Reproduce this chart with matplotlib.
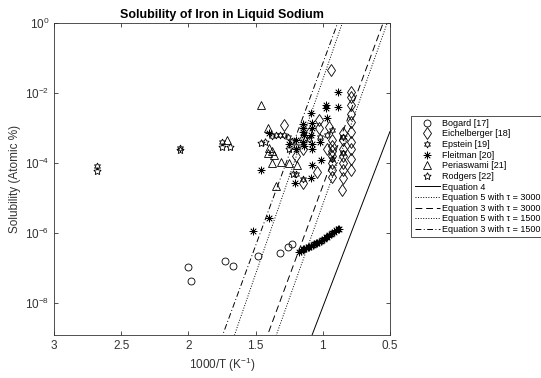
import matplotlib
matplotlib.use("Agg")
import matplotlib.pyplot as plt
from matplotlib.ticker import FixedLocator, LogFormatterSciNotation, NullLocator

plt.rcParams['font.family'] = ['Liberation Sans', 'DejaVu Sans']
plt.rcParams['mathtext.fontset'] = 'custom'
plt.rcParams['mathtext.rm'] = 'Liberation Sans'
plt.rcParams['mathtext.it'] = 'Liberation Sans:italic'

# --- data (x = 1000/T, y = atomic %) ---
bogard_x = [2.00, 1.98, 1.73, 1.665, 1.48, 1.32, 1.26, 1.227]
bogard_y = [1.1e-7, 4.3e-8, 1.6e-7, 1.2e-7, 2.3e-7, 2.7e-7, 4.0e-7, 4.9e-7]

eich_x = [0.94, 0.79, 0.79, 1.29, 1.03, 1.03, 0.95, 1.15, 1.15, 1.15, 1.04, 1.10,
          0.93, 0.93, 0.93, 0.93, 0.93, 0.93, 0.93,
          0.85, 0.85, 0.85, 0.85, 0.85, 0.85, 0.85, 0.855,
          0.79, 0.79, 0.79, 0.79, 0.79, 0.79, 0.79, 0.79, 0.97, 1.20]
eich_y = [4.6e-2, 1.1e-2, 7.9e-3, 1.2e-3, 1.7e-3, 1.0e-3, 1.1e-3, 5.0e-4, 2.5e-4, 2.8e-5, 5.5e-5, 7.1e-4,
          4.6e-4, 3.2e-4, 2.2e-4, 1.6e-4, 1.0e-4, 6.3e-5, 4.0e-5,
          7.2e-4, 4.5e-4, 2.5e-4, 1.6e-4, 1.0e-4, 6.3e-5, 3.7e-5, 1.7e-5,
          4.6e-3, 2.5e-3, 1.5e-3, 7.9e-4, 4.0e-4, 2.5e-4, 1.3e-4, 6.3e-5, 2.5e-4, 1.6e-4]

epstein_x = [2.68, 2.06, 1.75, 1.38, 1.35, 1.32, 1.29, 1.26, 1.23, 1.20, 1.10, 1.02,
             0.97, 0.93, 0.85, 0.85, 0.93, 1.20, 1.15]
epstein_y = [8.5e-5, 2.8e-4, 4.0e-4, 6.0e-4, 6.3e-4, 6.5e-4, 6.3e-4, 5.6e-4, 4.2e-4, 3.2e-4, 5.0e-4, 5.6e-4,
             6.3e-4, 8.9e-4, 5.6e-4, 2.0e-4, 1.3e-4, 5.0e-5, 3.5e-5]

fleit_x = [1.46, 1.40, 1.09, 0.975, 0.975, 0.886, 0.886, 1.21, 1.09, 1.08, 1.01,
           1.15, 1.15, 1.15, 1.14, 1.15, 1.14, 1.08, 1.08, 1.09, 1.08, 1.08, 1.20, 1.20, 1.25, 1.02, 0.97,
           1.52, 1.40,
           1.175, 1.16, 1.15, 1.138, 1.125, 1.11, 1.101, 1.09, 1.075, 1.064, 1.05, 1.04, 1.027,
           1.015, 1.002, 0.99, 0.977, 0.965, 0.953, 0.94, 0.928, 0.915, 0.903, 0.89, 0.878]
fleit_y = [6.3e-5, 7.2e-4, 2.7e-3, 4.6e-3, 3.7e-3, 1.1e-2, 4.0e-3, 2.8e-5, 3.7e-5, 8.7e-5, 1.2e-4,
           1.3e-3, 1.0e-3, 7.9e-4, 6.3e-4, 4.0e-4, 3.2e-4, 1.4e-3, 1.0e-3, 6.3e-4, 3.5e-4, 2.5e-4, 4.5e-4, 2.5e-4, 3.5e-4, 4.0e-4, 2.0e-3,
           1.2e-6, 2.8e-6,
           2.95e-7, 3.2e-7, 3.5e-7, 3.6e-7, 3.8e-7, 4.0e-7, 4.1e-7, 4.4e-7, 4.7e-7, 4.9e-7, 5.2e-7, 5.4e-7, 5.6e-7,
           6.0e-7, 6.3e-7, 6.9e-7, 7.6e-7, 8.1e-7, 8.7e-7, 9.3e-7, 1.02e-6, 1.12e-6, 1.23e-6, 1.29e-6, 1.35e-6]

peri_x = [1.71, 1.457, 1.41, 1.40, 1.38, 1.36, 1.41, 1.375, 1.31, 1.25, 1.19, 1.35]
peri_y = [4.6e-4, 4.6e-3, 1.0e-3, 2.7e-4, 2.2e-4, 1.7e-4, 2.0e-4, 1.0e-4, 1.1e-4, 1.0e-4, 8.7e-5, 2.2e-5]

rodg_x = [2.68, 2.06, 1.75, 1.69, 1.457, 1.43, 1.22, 1.25]
rodg_y = [6.0e-5, 2.4e-4, 2.9e-4, 2.9e-4, 3.8e-4, 4.0e-4, 4.8e-5, 2.5e-4]

# equation curves, end points
eq4_x = [1.10, 0.78, 0.50]
eq4_y = [7.8e-10, 1.26e-6, 8.0e-4]
eq5_3000_x = [1.36, 0.51]
eq5_3000_y = [8.7e-10, 1.3]
eq3_3000_x = [1.43, 0.54]
eq3_3000_y = [7.9e-10, 1.3]
eq5_1500_x = [1.67, 0.84]
eq5_1500_y = [8.9e-10, 1.45]
eq3_1500_x = [1.76, 0.88]
eq3_1500_y = [8.7e-10, 1.25]

x_ticks = [3, 2.5, 2, 1.5, 1, 0.5]
x_tick_labels = ['3', '2.5', '2', '1.5', '1', '0.5']
y_ticks = [1e-8, 1e-6, 1e-4, 1e-2, 1e0]

fig = plt.figure(figsize=(5.41, 3.78), dpi=100)
ax = fig.add_axes([0.0998, 0.114, 0.621, 0.825])

k = 'black'
ms = 5
mew = 0.6
ax.plot(bogard_x, bogard_y, ls='none', marker='o', ms=ms, mfc='none', mec=k, mew=mew, label='Bogard [17]')
ax.plot(eich_x, eich_y, ls='none', marker='d', ms=ms + 1, mfc='none', mec=k, mew=mew, label='Eichelberger [18]')
ax.plot(epstein_x, epstein_y, ls='none', marker=(6, 1, 0), ms=ms, mfc='none', mec=k, mew=mew, label='Epstein [19]')
ax.plot(fleit_x, fleit_y, ls='none', marker=(8, 2, 0), ms=ms + 0.5, mfc='none', mec=k, mew=0.5, label='Fleitman [20]')
ax.plot(peri_x, peri_y, ls='none', marker='^', ms=ms + 0.5, mfc='none', mec=k, mew=mew, label='Periaswami [21]')
ax.plot(rodg_x, rodg_y, ls='none', marker=(5, 1, 0), ms=ms + 0.5, mfc='none', mec=k, mew=mew, label='Rodgers [22]')

lw = 0.7
ax.plot(eq4_x, eq4_y, '-', color=k, lw=lw, label='Equation 4')
ax.plot(eq5_3000_x, eq5_3000_y, ':', color=k, lw=lw, label='Equation 5 with τ = 3000')
ax.plot(eq3_3000_x, eq3_3000_y, color=k, lw=lw, dashes=(7, 4), label='Equation 3 with τ = 3000')
ax.plot(eq5_1500_x, eq5_1500_y, ':', color=k, lw=lw, label='Equation 5 with τ = 1500')
ax.plot(eq3_1500_x, eq3_1500_y, color=k, lw=lw, dashes=(6, 2.5, 1, 2.5), label='Equation 3 with τ = 1500')

ax.set_yscale('log')
ax.set_xlim(3, 0.5)
ax.set_ylim(10 ** -8.9, 1)
ax.xaxis.set_major_locator(FixedLocator(x_ticks))
ax.set_xticklabels(x_tick_labels)
ax.yaxis.set_major_locator(FixedLocator(y_ticks))
ax.yaxis.set_major_formatter(LogFormatterSciNotation())
ax.yaxis.set_minor_locator(NullLocator())

axc = '#333333'
for s in ax.spines.values():
    s.set_color(axc)
    s.set_linewidth(0.6)
ax.tick_params(direction='in', length=3, width=0.6, colors=axc, labelsize=8.5,
               top=True, right=True, which='both')

ax.set_xlabel('1000/T (K$^{-1}$)', fontsize=8.5, color=axc, labelpad=3)
ax.set_ylabel('Solubility (Atomic %)', fontsize=8.5, color=axc, labelpad=3)
ax.set_title('Solubility of Iron in Liquid Sodium', fontsize=9, fontweight='bold', pad=4)

leg = fig.legend(loc='upper left', bbox_to_anchor=(0.752, 0.706), fontsize=6.5,
                 labelspacing=0.18, handlelength=2.8, handletextpad=0.3, borderpad=0.35,
                 fancybox=False, framealpha=1, edgecolor='#333333')
leg.get_frame().set_linewidth(0.6)

fig.savefig('out.png', dpi=100)
